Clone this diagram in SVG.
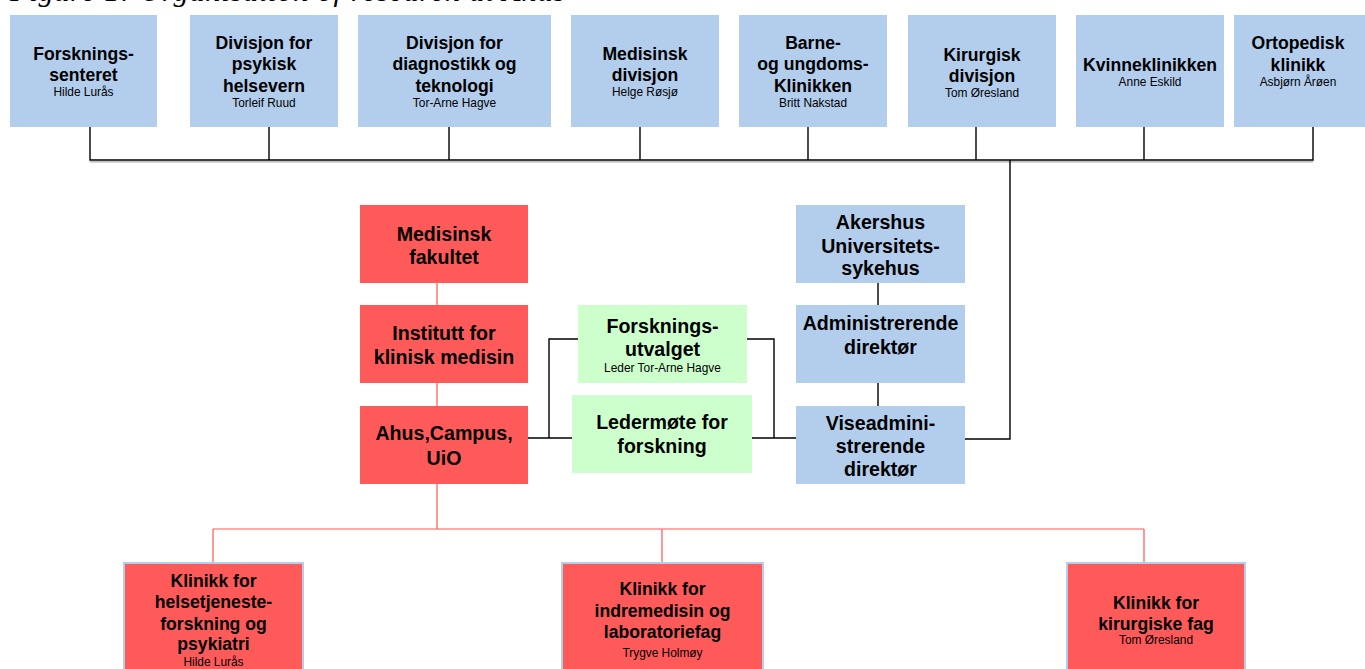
<svg xmlns="http://www.w3.org/2000/svg" width="1365" height="669" viewBox="0 0 1365 669">
<style>
.b{fill:#B3CDEC}
.r{fill:#FF5A5A}
.rb{fill:#FF5A5A;stroke:#B3CDEC;stroke-width:2}
.g{fill:#CCFFCC}
.t{font-family:"Liberation Sans",Arial,sans-serif;font-weight:bold;font-size:17.6px;fill:#000;text-anchor:middle}
.m{font-family:"Liberation Sans",Arial,sans-serif;font-weight:bold;font-size:19.6px;fill:#000;text-anchor:middle}
.s{font-family:"Liberation Sans",Arial,sans-serif;font-size:11.9px;fill:#000;text-anchor:middle}
.k{stroke:#000;stroke-width:1.4;fill:none}
.rl{stroke:#F55;stroke-width:1.2;fill:none}
</style>
<text x="10" y="1.2" font-family="Liberation Serif,serif" font-style="italic" font-size="30" textLength="555" fill="#000">Figure 1: Organisation of research at Ahus</text>

<g id="connectors">
<line x1="90" y1="161.8" x2="1313" y2="161.8" stroke="#aaa" stroke-width="1.2"/>
<path class="k" d="M90 127V160H1313V127M269 127V160M449 127V160M640 127V160M808 127V160M976 127V160M1144 127V160"/>
<path class="k" d="M1010 160V439H965"/>
<path class="k" d="M878 283V305M878 383V406"/>
<path class="k" d="M528 438H572M549 438V339H583M747 339H774V438H796M752 438H796"/>
<path class="rl" d="M437 283V305M437 383V406M437 484V529M213 529H1144M213 529V562M662 529V562M1144 529V562"/>
</g>

<g id="n1"><rect class="b" x="10" y="15" width="147" height="112"/><text class="t" x="83.5" y="60">Forsknings-</text><text class="t" x="83.5" y="81">senteret</text><text class="s" x="83.5" y="96">Hilde Lurås</text></g>
<g id="n2"><rect class="b" x="190" y="15" width="148" height="112"/><text class="t" x="264" y="49">Divisjon for</text><text class="t" x="264" y="70">psykisk</text><text class="t" x="264" y="92">helsevern</text><text class="s" x="264" y="107">Torleif Ruud</text></g>
<g id="n3"><rect class="b" x="358" y="15" width="193" height="112"/><text class="t" x="454.5" y="49">Divisjon for</text><text class="t" x="454.5" y="70">diagnostikk og</text><text class="t" x="454.5" y="92">teknologi</text><text class="s" x="454.5" y="107">Tor-Arne Hagve</text></g>
<g id="n4"><rect class="b" x="571" y="15" width="148" height="112"/><text class="t" x="645" y="60">Medisinsk</text><text class="t" x="645" y="81">divisjon</text><text class="s" x="645" y="96">Helge Røsjø</text></g>
<g id="n5"><rect class="b" x="739" y="15" width="148" height="112"/><text class="t" x="813" y="49">Barne-</text><text class="t" x="813" y="70">og ungdoms-</text><text class="t" x="813" y="92">Klinikken</text><text class="s" x="813" y="107">Britt Nakstad</text></g>
<g id="n6"><rect class="b" x="908" y="15" width="148" height="112"/><text class="t" x="982" y="61">Kirurgisk</text><text class="t" x="982" y="82">divisjon</text><text class="s" x="982" y="97">Tom Øresland</text></g>
<g id="n7"><rect class="b" x="1076" y="15" width="148" height="112"/><text class="t" x="1150" y="71">Kvinneklinikken</text><text class="s" x="1150" y="86">Anne Eskild</text></g>
<g id="n8"><rect class="b" x="1234" y="15" width="131" height="112"/><text class="t" x="1298" y="49">Ortopedisk</text><text class="t" x="1298" y="71">klinikk</text><text class="s" x="1298" y="86">Asbjørn Årøen</text></g>

<g id="mf"><rect class="r" x="360" y="205" width="168" height="78"/><text class="m" x="444" y="240.5">Medisinsk</text><text class="m" x="444" y="263.5">fakultet</text></g>
<g id="ikm"><rect class="r" x="360" y="305" width="168" height="78"/><text class="m" x="444" y="339.5">Institutt for</text><text class="m" x="444" y="364">klinisk medisin</text></g>
<g id="ahus"><rect class="r" x="360" y="406" width="168" height="78"/><text class="m" x="444" y="439.5">Ahus,Campus,</text><text class="m" x="444" y="464.5">UiO</text></g>

<g id="fu"><rect class="g" x="578" y="305" width="169" height="78"/><text class="m" x="662.5" y="333">Forsknings-</text><text class="m" x="662.5" y="356">utvalget</text><text class="s" x="662.5" y="372">Leder Tor-Arne Hagve</text></g>
<g id="lm"><rect class="g" x="572" y="395" width="180" height="78"/><text class="m" x="662" y="429">Ledermøte for</text><text class="m" x="662" y="453">forskning</text></g>

<g id="aus"><rect class="b" x="796" y="205" width="169" height="78"/><text class="m" x="880.5" y="228.5">Akershus</text><text class="m" x="880.5" y="252.5">Universitets-</text><text class="m" x="880.5" y="275">sykehus</text></g>
<g id="ad"><rect class="b" x="796" y="305" width="169" height="78"/><text class="m" x="880.5" y="329.5">Administrerende</text><text class="m" x="880.5" y="354">direktør</text></g>
<g id="vad"><rect class="b" x="796" y="406" width="169" height="78"/><text class="m" x="880.5" y="429.5">Viseadmini-</text><text class="m" x="880.5" y="453">strerende</text><text class="m" x="880.5" y="476">direktør</text></g>

<g id="k1"><rect class="rb" x="124" y="563" width="179" height="110"/><text class="t" x="213.5" y="587">Klinikk for</text><text class="t" x="213.5" y="608">helsetjeneste-</text><text class="t" x="213.5" y="630">forskning og</text><text class="t" x="213.5" y="650">psykiatri</text><text class="s" x="213.5" y="666">Hilde Lurås</text></g>
<g id="k2"><rect class="rb" x="562" y="563" width="201" height="110"/><text class="t" x="662.5" y="595">Klinikk for</text><text class="t" x="662.5" y="617">indremedisin og</text><text class="t" x="662.5" y="638">laboratoriefag</text><text class="s" x="662.5" y="657">Trygve Holmøy</text></g>
<g id="k3"><rect class="rb" x="1067" y="563" width="178" height="110"/><text class="t" x="1156" y="609">Klinikk for</text><text class="t" x="1156" y="630">kirurgiske fag</text><text class="s" x="1156" y="644">Tom Øresland</text></g>
</svg>
